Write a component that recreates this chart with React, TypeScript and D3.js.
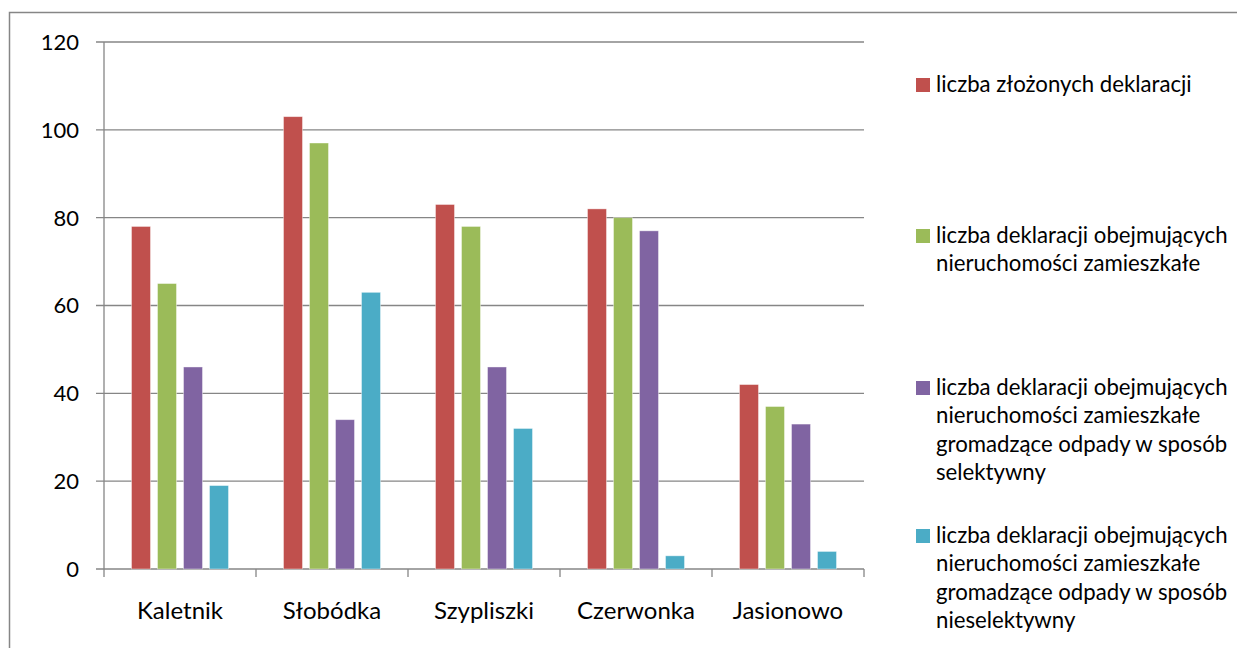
import * as d3 from 'd3';

const categories = ['Kaletnik', 'Słobódka', 'Szypliszki', 'Czerwonka', 'Jasionowo'];
const seriesNames = [
  'liczba złożonych deklaracji',
  'liczba deklaracji obejmujących nieruchomości zamieszkałe',
  'liczba deklaracji obejmujących nieruchomości zamieszkałe gromadzące odpady w sposób selektywny',
  'liczba deklaracji obejmujących nieruchomości zamieszkałe gromadzące odpady w sposób nieselektywny',
];
const legendLines = [
  ['liczba złożonych deklaracji'],
  ['liczba deklaracji obejmujących', 'nieruchomości zamieszkałe'],
  ['liczba deklaracji obejmujących', 'nieruchomości zamieszkałe', 'gromadzące odpady w sposób', 'selektywny'],
  ['liczba deklaracji obejmujących', 'nieruchomości zamieszkałe', 'gromadzące odpady w sposób', 'nieselektywny'],
];
const declarationsTotal = [78, 103, 83, 82, 42];
const declarationsInhabited = [65, 97, 78, 80, 37];
const declarationsSelective = [46, 34, 46, 77, 33];
const declarationsNonSelective = [19, 63, 32, 3, 4];
const yTicks = [0, 20, 40, 60, 80, 100, 120];

const seriesValues = [declarationsTotal, declarationsInhabited, declarationsSelective, declarationsNonSelective];
const colors = ['#C0504D', '#9BBB59', '#8064A2', '#4BACC6'];

const W = 1237;
const H = 648;
const font = 'Lato, Calibri, sans-serif';
const gray = '#868686';

export default function App() {
  const left = 104;
  const right = 864;
  const top = 42;
  const bottom = 569;

  const x0 = d3.scaleBand<string>().domain(categories).range([left, right]).paddingInner(0).paddingOuter(0);
  const groupPad = 27.5;
  const x1 = d3
    .scaleBand<number>()
    .domain(d3.range(seriesNames.length))
    .range([groupPad, x0.bandwidth() - groupPad])
    .paddingInner(0.27);
  const y = d3.scaleLinear().domain([0, 120]).range([bottom, top]);

  const boundaries = d3.range(categories.length + 1).map((i) => left + i * x0.step());

  const legendBlocks = [78, 229, 381, 529];
  const lineH = 28.3;

  return (
    <div style={{ position: 'absolute', left: 0, top: 0 }}>
      <svg width={W} height={H} style={{ display: 'block', background: '#fff' }} fontFamily={font}>
        <rect x={9.5} y={12.5} width={W + 10} height={H + 10} fill="#fff" stroke={gray} strokeWidth={1.5} />

        {/* grid lines and y labels */}
        {yTicks.map((t) => (
          <g key={t}>
            <line x1={left - 8} x2={right} y1={y(t)} y2={y(t)} stroke={gray} strokeWidth={1.3} />
            <text x={79} y={y(t)} dy="0.36em" textAnchor="end" fontSize={22} fill="#000">
              {t}
            </text>
          </g>
        ))}

        {/* axes */}
        <line x1={left} x2={left} y1={top} y2={bottom} stroke={gray} strokeWidth={1.3} />
        {boundaries.map((bx, i) => (
          <line key={i} x1={bx} x2={bx} y1={bottom} y2={bottom + 8} stroke={gray} strokeWidth={1.3} />
        ))}

        {/* bars */}
        {categories.map((c, ci) => (
          <g key={c} transform={`translate(${x0(c)},0)`}>
            {seriesValues.map((vals, si) => (
              <rect
                key={si}
                x={x1(si)}
                y={y(vals[ci])}
                width={x1.bandwidth()}
                height={y(0) - y(vals[ci])}
                fill={colors[si]}
                stroke="#fff"
                strokeOpacity={0.5}
                strokeWidth={0.8}
              />
            ))}
          </g>
        ))}

        {/* category labels */}
        {categories.map((c) => (
          <text key={c} x={(x0(c) ?? 0) + x0.bandwidth() / 2} y={619} textAnchor="middle" fontSize={24} fill="#000">
            {c}
          </text>
        ))}

        {/* legend */}
        {legendLines.map((lines, i) => (
          <g key={i}>
            <rect x={916} y={legendBlocks[i]} width={14} height={14} fill={colors[i]} />
            {lines.map((ln, j) => (
              <text key={j} x={936} y={legendBlocks[i] + 14 + j * lineH} fontSize={22.2} fill="#000">
                {ln}
              </text>
            ))}
          </g>
        ))}
      </svg>
    </div>
  );
}
